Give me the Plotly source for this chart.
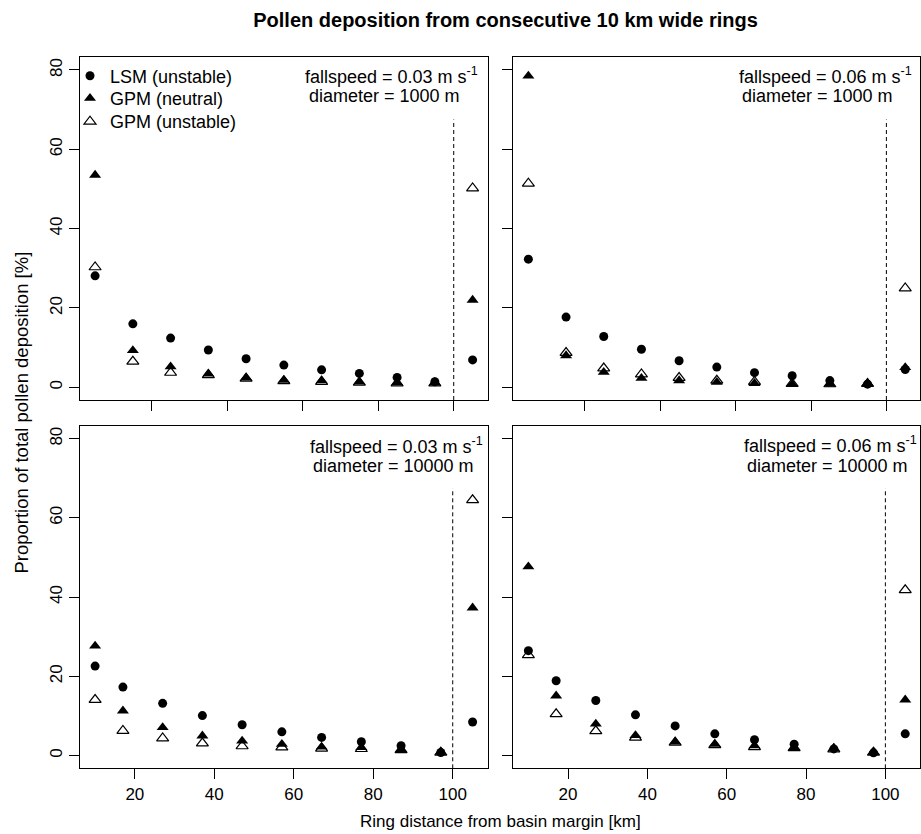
import plotly.graph_objects as go

W, H = 921, 834

# ---------------- data ----------------
x_top = [5, 15, 25, 35, 45, 55, 65, 75, 85, 95, 105]
x_bottom = [10, 17, 27, 37, 47, 57, 67, 77, 87, 97, 105]

series_names = ["LSM (unstable)", "GPM (neutral)", "GPM (unstable)"]

# panel 1: fallspeed 0.03, diameter 1000
lsm_1 = [28.1, 16.0, 12.4, 9.4, 7.2, 5.6, 4.4, 3.5, 2.5, 1.4, 6.9]
gpmn_1 = [53.5, 9.3, 5.2, 3.4, 2.4, 1.8, 1.7, 1.4, 1.2, 1.2, 22.0]
gpmu_1 = [30.3, 6.5, 3.7, 3.1, 2.2, 1.6, 1.4, 1.2, 1.0, 1.0, 50.2]

# panel 2: fallspeed 0.06, diameter 1000
lsm_2 = [32.3, 17.7, 12.8, 9.6, 6.7, 5.1, 3.7, 2.9, 1.7, 0.8, 4.5]
gpmn_2 = [78.5, 8.0, 3.8, 2.3, 1.7, 1.3, 1.0, 0.8, 0.8, 1.0, 5.0]
gpmu_2 = [51.4, 8.7, 4.8, 3.3, 2.4, 1.7, 1.4, 0.9, 0.8, 0.9, 25.0]

# panel 3: fallspeed 0.03, diameter 10000
lsm_3 = [22.6, 17.3, 13.2, 10.1, 7.8, 6.0, 4.6, 3.5, 2.5, 0.8, 8.5]
gpmn_3 = [27.7, 11.3, 7.1, 5.0, 3.7, 2.9, 2.2, 2.1, 1.6, 0.9, 37.3]
gpmu_3 = [14.1, 6.3, 4.4, 3.1, 2.4, 2.1, 1.8, 1.7, 1.4, 0.8, 64.5]

# panel 4: fallspeed 0.06, diameter 10000
lsm_4 = [26.5, 18.9, 13.9, 10.3, 7.5, 5.5, 4.0, 2.9, 1.7, 0.7, 5.5]
gpmn_4 = [47.7, 15.1, 8.0, 5.1, 3.5, 2.9, 2.5, 2.1, 1.9, 0.9, 14.1]
gpmu_4 = [25.4, 10.5, 6.2, 4.6, 3.3, 2.7, 2.2, 1.9, 1.6, 0.8, 41.8]

fallspeeds = ["0.03", "0.06", "0.03", "0.06"]
diameters = ["1000", "1000", "10000", "10000"]

x_ticks = [20, 40, 60, 80, 100]
y_ticks = [0, 20, 40, 60, 80]

margin_x = 100          # basin margin (dashed line)
dash_top = 67.5         # top of dashed line

title_text = "Pollen deposition from consecutive 10 km wide rings"
x_title = "Ring distance from basin margin [km]"
y_title = "Proportion of total pollen deposition [%]"

# ---------------- layout helpers ----------------
FONT = "Liberation Sans, Arial, Helvetica, sans-serif"


def px_x(p):
    return p / W


def px_y(p):
    return 1 - p / H


cols = [(80, 487.7), (513.3, 920.3)]
rows = [(57.3, 400), (426, 768.3)]

panels = [
    (x_top, lsm_1, gpmn_1, gpmu_1, 0, 0),
    (x_top, lsm_2, gpmn_2, gpmu_2, 0, 1),
    (x_bottom, lsm_3, gpmn_3, gpmu_3, 1, 0),
    (x_bottom, lsm_4, gpmn_4, gpmu_4, 1, 1),
]

fig = go.Figure()
layout = dict()
shapes = []
annotations = []

marker_styles = [
    dict(symbol="circle", size=9, color="black"),
    dict(symbol="triangle-up", size=10.5, color="black"),
    dict(symbol="triangle-up-open", size=10.5, color="black", line=dict(color="black", width=1.2)),
]
legend_ids = ["legend", "legend2", "legend3"]
legend_tops = [57.5, 80, 103.2]

label_pos = [
    ((303.3, 75), (306.7, 96)),
    ((737.3, 75), (740.0, 96)),
    ((308.3, 445), (310.7, 466.5)),
    ((741.7, 444), (745.0, 466.5)),
]

for i, (xs, lsm, gn, gu, r, c) in enumerate(panels):
    k = i + 1
    xa = "x" if k == 1 else f"x{k}"
    ya = "y" if k == 1 else f"y{k}"
    xkey = "xaxis" if k == 1 else f"xaxis{k}"
    ykey = "yaxis" if k == 1 else f"yaxis{k}"

    for j, (name, vals) in enumerate(zip(series_names, [lsm, gn, gu])):
        fig.add_trace(go.Scatter(
            x=xs, y=vals, mode="markers", name=name,
            marker=marker_styles[j], xaxis=xa, yaxis=ya,
            showlegend=(k == 1), legend=legend_ids[j], cliponaxis=False,
        ))

    # x range like R's 4% extension
    lo, hi = min(xs), max(xs)
    ext = 0.04 * (hi - lo)
    x0, x1 = cols[c]
    y0, y1 = rows[r]
    layout[xkey] = dict(
        domain=[px_x(x0), px_x(x1)], range=[lo - ext, hi + ext], anchor=ya,
        tickmode="array", tickvals=x_ticks, ticktext=[str(t) for t in x_ticks],
        showticklabels=(r == 1), ticks="outside", ticklen=10, tickwidth=1,
        tickcolor="black", showline=True, linecolor="black", linewidth=1,
        mirror=True, showgrid=False, zeroline=False,
        tickfont=dict(family=FONT, size=17, color="black"),
        ticklabelstandoff=0,
    )
    layout[ykey] = dict(
        domain=[px_y(y1), px_y(y0)], range=[-3.2, 83.2], anchor=xa,
        tickmode="array", tickvals=y_ticks, ticktext=[str(t) for t in y_ticks],
        showticklabels=(c == 0), ticks="outside", ticklen=10, tickwidth=1,
        tickcolor="black", showline=True, linecolor="black", linewidth=1,
        mirror=True, showgrid=False, zeroline=False, tickangle=-90,
        tickfont=dict(family=FONT, size=17, color="black"),
        ticklabelstandoff=0,
    )
    shapes.append(dict(
        type="line", xref=xa, yref=ya, x0=margin_x, x1=margin_x,
        y0=-3.2, y1=dash_top, line=dict(color="black", width=1, dash="4px,3px"),
    ))
    (fx, fy), (dx, dy) = label_pos[i]
    annotations.append(dict(
        xref="paper", yref="paper", x=px_x(fx), y=px_y(fy),
        xanchor="left", yanchor="middle", showarrow=False,
        text=f"fallspeed = {fallspeeds[i]} m s<sup>-1</sup>",
        font=dict(family=FONT, size=18, color="black"),
    ))
    annotations.append(dict(
        xref="paper", yref="paper", x=px_x(dx), y=px_y(dy),
        xanchor="left", yanchor="middle", showarrow=False,
        text=f"diameter = {diameters[i]} m",
        font=dict(family=FONT, size=18, color="black"),
    ))

annotations.append(dict(
    xref="paper", yref="paper", x=px_x(500.5), y=px_y(821),
    xanchor="center", yanchor="middle", showarrow=False, text=x_title,
    font=dict(family=FONT, size=17, color="black"),
))
annotations.append(dict(
    xref="paper", yref="paper", x=px_x(22), y=px_y(412.6),
    xanchor="center", yanchor="middle", showarrow=False, text=y_title,
    textangle=-90, font=dict(family=FONT, size=18.5, color="black"),
))

legends = {}
for lid, top in zip(legend_ids, legend_tops):
    legends[lid] = dict(
        x=px_x(70), y=px_y(top), xanchor="left", yanchor="top",
        bgcolor="rgba(0,0,0,0)", borderwidth=0, itemwidth=30,
        font=dict(family=FONT, size=18, color="black"),
    )

fig.update_layout(
    **layout,
    **legends,
    width=W, height=H,
    margin=dict(l=0, r=0, t=0, b=0),
    paper_bgcolor="white", plot_bgcolor="white",
    title=dict(text=f"<b>{title_text}</b>", x=px_x(505.5), y=px_y(19.5),
               xanchor="center", yanchor="middle", xref="paper", yref="paper",
               font=dict(family=FONT, size=20, color="black")),
    shapes=shapes, annotations=annotations,
    showlegend=True,
)

fig.write_html("out.html")
